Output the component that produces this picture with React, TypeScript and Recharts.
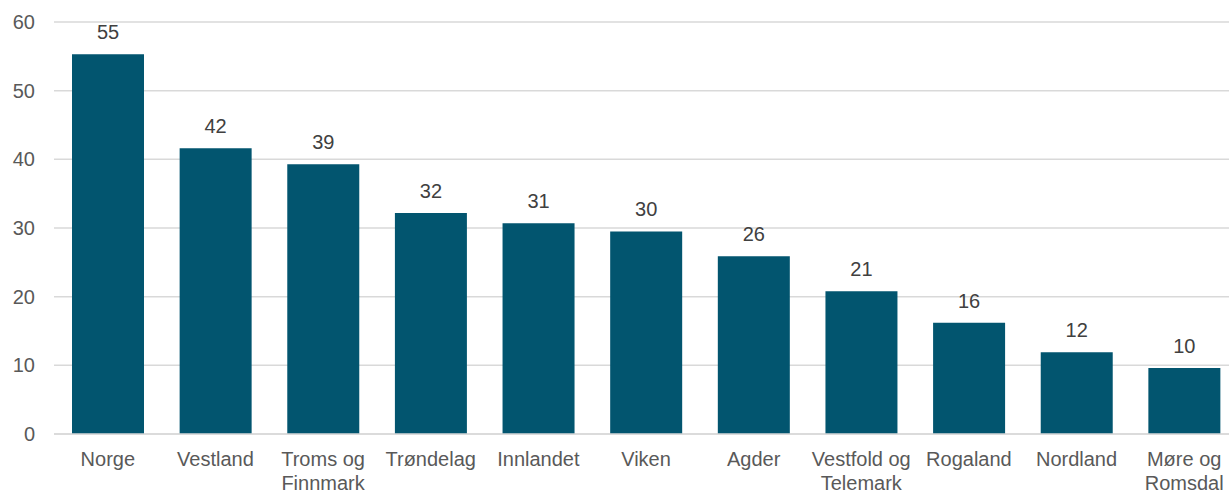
import { Bar, BarChart, CartesianGrid, LabelList, XAxis, YAxis } from "recharts";

const REGIONS = [
  "Norge",
  "Vestland",
  "Troms og\nFinnmark",
  "Trøndelag",
  "Innlandet",
  "Viken",
  "Agder",
  "Vestfold og\nTelemark",
  "Rogaland",
  "Nordland",
  "Møre og\nRomsdal",
];
const VALUES = [55.3, 41.6, 39.3, 32.2, 30.7, 29.5, 25.9, 20.8, 16.2, 11.9, 9.6];
const Y_TICKS = [0, 10, 20, 30, 40, 50, 60];

const BAR_COLOR = "#02556F";
const TEXT_COLOR = "#595959";
const LABEL_COLOR = "#404040";
const GRID_COLOR = "#D9D9D9";
const FONT = "'Liberation Sans', Arial, sans-serif";

const data = REGIONS.map((region, i) => ({ region, value: VALUES[i] }));

function RegionTick(props: any) {
  const { x, y, payload } = props;
  const lines = String(payload.value).split("\n");
  return (
    <text x={x} y={y} textAnchor="middle" fill={TEXT_COLOR} fontSize={20} fontFamily={FONT}>
      {lines.map((line, i) => (
        <tspan key={i} x={x} dy={24}>
          {line}
        </tspan>
      ))}
    </text>
  );
}

// the plot area runs slightly past the right edge of the picture, as in the source
export default function App() {
  return (
    <div
      style={{
        position: "fixed",
        top: 0,
        left: 0,
        width: 1229,
        height: 492,
        overflow: "hidden",
        background: "#fff",
      }}
    >
      <BarChart
        width={1238}
        height={492}
        data={data}
        margin={{ top: 22, right: 0, bottom: 0, left: 0 }}
      >
        <CartesianGrid vertical={false} stroke={GRID_COLOR} strokeWidth={1.5} />
        <XAxis
          dataKey="region"
          interval={0}
          height={58}
          tickLine={false}
          axisLine={{ stroke: GRID_COLOR, strokeWidth: 1.5 }}
          tick={<RegionTick />}
        />
        <YAxis
          domain={[0, 60]}
          ticks={Y_TICKS}
          width={54}
          axisLine={false}
          tickLine={false}
          tickSize={0}
          tickMargin={19}
          tick={{ fill: TEXT_COLOR, fontSize: 20, fontFamily: FONT }}
        />
        <Bar dataKey="value" fill={BAR_COLOR} barSize={72} isAnimationActive={false}>
          <LabelList
            dataKey="value"
            position="top"
            offset={15}
            formatter={(v: any) => Math.round(Number(v))}
            style={{ fill: LABEL_COLOR, fontSize: 20, fontFamily: FONT }}
          />
        </Bar>
      </BarChart>
    </div>
  );
}
